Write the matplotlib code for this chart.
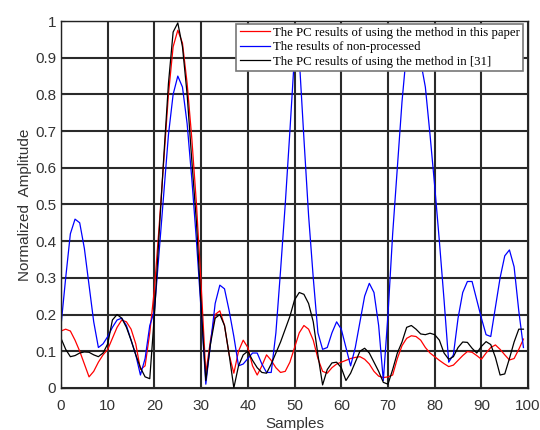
import numpy as np
import matplotlib
matplotlib.use("Agg")
import matplotlib.pyplot as plt

samples = np.arange(0, 100)

# PC results, method of this paper (red)
pc_paper = [0.155, 0.16, 0.155, 0.13, 0.10, 0.065, 0.03, 0.045, 0.07, 0.09,
            0.105, 0.135, 0.165, 0.185, 0.18, 0.16, 0.12, 0.05, 0.06, 0.15,
            0.27, 0.44, 0.62, 0.80, 0.93, 0.975, 0.94, 0.83, 0.68, 0.50,
            0.28, 0.04, 0.13, 0.20, 0.21, 0.17, 0.09, 0.04, 0.10, 0.13,
            0.11, 0.06, 0.035, 0.06, 0.09, 0.075, 0.055, 0.042, 0.045, 0.07,
            0.11, 0.15, 0.17, 0.16, 0.13, 0.08, 0.045, 0.04, 0.055, 0.065,
            0.07, 0.075, 0.08, 0.083, 0.085, 0.078, 0.065, 0.045, 0.032, 0.028,
            0.03, 0.035, 0.08, 0.115, 0.135, 0.142, 0.14, 0.13, 0.11, 0.095,
            0.085, 0.075, 0.066, 0.058, 0.062, 0.075, 0.088, 0.099, 0.097, 0.088,
            0.078, 0.095, 0.11, 0.117, 0.105, 0.09, 0.076, 0.08, 0.105, 0.133]

# non-processed (blue)
raw = [0.17, 0.30, 0.42, 0.46, 0.45, 0.38, 0.28, 0.18, 0.11, 0.12,
       0.14, 0.165, 0.185, 0.19, 0.17, 0.13, 0.09, 0.035, 0.08, 0.17,
       0.21, 0.37, 0.53, 0.69, 0.80, 0.85, 0.82, 0.72, 0.57, 0.40,
       0.21, 0.01, 0.12, 0.23, 0.28, 0.27, 0.21, 0.14, 0.06, 0.065,
       0.08, 0.095, 0.095, 0.065, 0.042, 0.042, 0.15, 0.32, 0.50, 0.70,
       0.91, 0.90, 0.68, 0.47, 0.30, 0.15, 0.105, 0.11, 0.15, 0.18,
       0.16, 0.11, 0.06, 0.11, 0.18, 0.25, 0.285, 0.26, 0.17, 0.02,
       0.20, 0.42, 0.60, 0.78, 0.92, 0.99, 0.96, 0.89, 0.82, 0.69,
       0.55, 0.40, 0.24, 0.07, 0.09, 0.19, 0.26, 0.29, 0.29, 0.24,
       0.19, 0.145, 0.14, 0.22, 0.30, 0.36, 0.376, 0.33, 0.21, 0.11]

# PC results, method in [31] (black)
pc_ref31 = [0.135, 0.105, 0.085, 0.088, 0.095, 0.098, 0.097, 0.09, 0.085, 0.095,
            0.12, 0.185, 0.20, 0.19, 0.165, 0.13, 0.09, 0.055, 0.03, 0.025,
            0.20, 0.42, 0.63, 0.83, 0.97, 0.995, 0.93, 0.80, 0.62, 0.45,
            0.22, 0.02, 0.12, 0.19, 0.20, 0.17, 0.09, 0.0, 0.06, 0.09,
            0.10, 0.075, 0.055, 0.042, 0.04, 0.065, 0.095, 0.125, 0.16, 0.195,
            0.24, 0.26, 0.255, 0.23, 0.18, 0.09, 0.008, 0.05, 0.068, 0.07,
            0.055, 0.02, 0.04, 0.07, 0.10, 0.108, 0.095, 0.07, 0.045, 0.015,
            0.01, 0.05, 0.095, 0.125, 0.165, 0.17, 0.16, 0.147, 0.145, 0.149,
            0.145, 0.13, 0.095, 0.078, 0.085, 0.11, 0.125, 0.124, 0.108, 0.095,
            0.113, 0.126, 0.118, 0.083, 0.035, 0.038, 0.08, 0.125, 0.16, 0.16]

labels = ["The PC results of using the method in this paper",
          "The results of non-processed",
          "The PC results of using the method in [31]"]

plt.rcParams['font.family'] = ['Liberation Sans', 'DejaVu Sans']

fig = plt.figure(figsize=(5.4, 4.3), dpi=100)
ax = fig.add_axes([0.113, 0.098, 0.865, 0.853])

ax.plot(samples, pc_paper, color="red", lw=0.9, label=labels[0])
ax.plot(samples, raw, color="blue", lw=0.9, label=labels[1])
ax.plot(samples, pc_ref31, color="black", lw=0.9, label=labels[2])

ax.set_xlim(0, 100)
ax.set_ylim(0, 1)
ax.set_xticks(np.arange(0, 101, 10))
ax.set_yticks(np.arange(0, 1.01, 0.1))
ax.set_yticklabels(["0", "0.1", "0.2", "0.3", "0.4", "0.5", "0.6", "0.7", "0.8", "0.9", "1"])
ax.grid(True, color="#2a2a2a", lw=1.5, ls="-")
ax.set_axisbelow(True)
ax.tick_params(direction="in", length=3, labelsize=11, colors="#333333")
ax.tick_params(axis="x", pad=8)
for s in ax.spines.values():
    s.set_color("#222222")
    s.set_linewidth(1.0)

ax.set_xlabel("Samples", fontsize=11, color="#333333", labelpad=3)
ax.set_ylabel("Normalized  Amplitude", fontsize=11, color="#333333", labelpad=2)

leg = ax.legend(loc="upper right", bbox_to_anchor=(0.99, 0.993),
                prop={'family': 'Liberation Serif', 'size': 9.2},
                handlelength=2.35, handletextpad=0.3, borderpad=0.25,
                labelspacing=0.2, borderaxespad=0, fancybox=False,
                framealpha=1, edgecolor="#777777")
leg.get_frame().set_linewidth(1.2)

fig.savefig("out.png", dpi=100)
